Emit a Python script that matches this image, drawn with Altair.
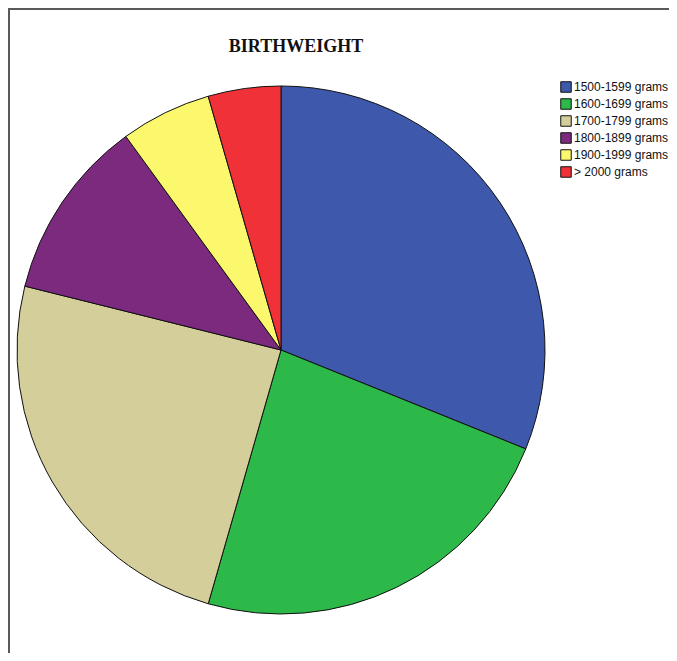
import altair as alt
import pandas as pd

categories = ["1500-1599 grams", "1600-1699 grams", "1700-1799 grams",
              "1800-1899 grams", "1900-1999 grams", "> 2000 grams"]
counts = [28, 21, 22, 10, 5, 4]
colors = ["#3E58AC", "#2DB84A", "#D3CE9A", "#7B2A7E", "#FBF86D", "#F03238"]

df = pd.DataFrame({"category": categories, "count": counts,
                   "order": list(range(len(categories)))})

W, H = 661, 645

pie = alt.Chart(df).mark_arc(radius=264, stroke="#111111", strokeWidth=1).encode(
    theta=alt.Theta("count:Q", stack=True),
    order=alt.Order("order:Q", sort="ascending"),
    color=alt.Color(
        "category:N",
        sort=categories,
        scale=alt.Scale(domain=categories, range=colors),
        legend=alt.Legend(
            title=None, orient="none", legendX=552, legendY=73,
            symbolType="square", symbolSize=110, symbolStrokeColor="#111111",
            symbolStrokeWidth=1, labelFont="Liberation Sans", labelFontSize=12,
            labelColor="#111111", labelOffset=2, rowPadding=1, padding=0,
            labelLimit=200,
        ),
    ),
    x=alt.value(273),
    y=alt.value(342),
)

title = alt.Chart(pd.DataFrame({"t": ["BIRTHWEIGHT"]})).mark_text(
    font="Liberation Serif", fontWeight="bold", fontSize=18, color="#111111",
    align="center", baseline="alphabetic",
).encode(text="t:N", x=alt.value(288), y=alt.value(44))

frame_top = alt.Chart(pd.DataFrame({"a": [0]})).mark_rule(
    color="#5a5a5a", strokeWidth=2
).encode(x=alt.value(0), x2=alt.value(W), y=alt.value(1))

frame_left = alt.Chart(pd.DataFrame({"a": [0]})).mark_rule(
    color="#5a5a5a", strokeWidth=2
).encode(x=alt.value(1), y=alt.value(0), y2=alt.value(H))

chart = alt.layer(frame_top, frame_left, pie, title).properties(
    width=W, height=H, padding=0,
    autosize=alt.AutoSizeParams(type="none"),
).configure_view(stroke=None).configure(background="white")

chart.save("out.html", embed_options={"renderer": "svg", "actions": False})
